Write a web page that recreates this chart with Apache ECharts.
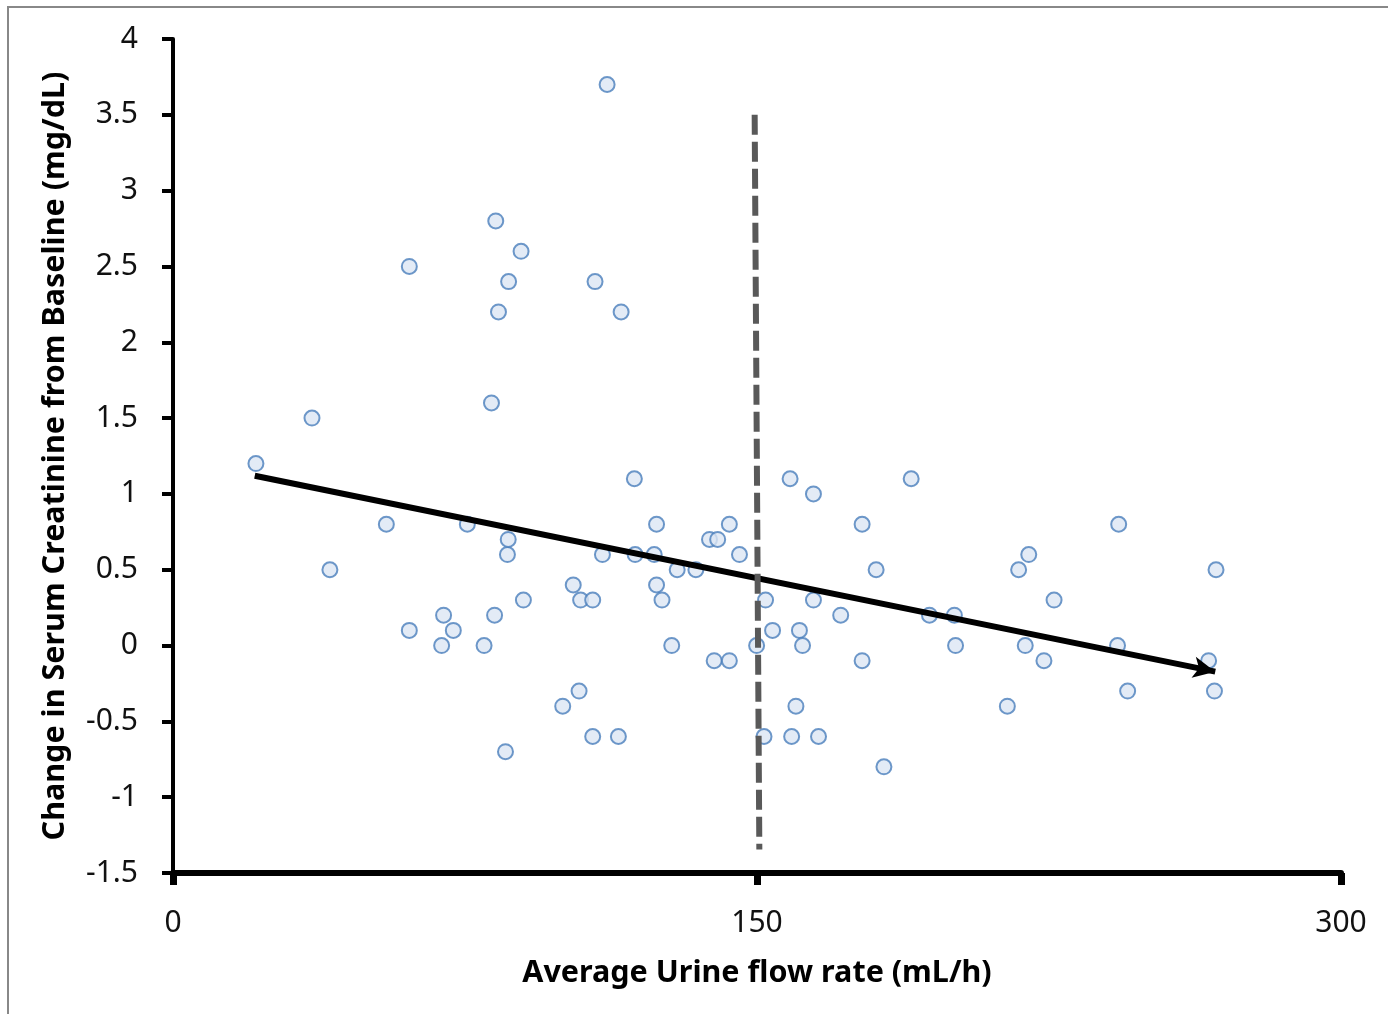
<!DOCTYPE html>
<html>
<head>
<meta charset="utf-8">
<script src="https://cdn.jsdelivr.net/npm/echarts@6/dist/echarts.min.js"></script>
<style>
  html, body { margin: 0; padding: 0; background: #fff; }
  #chart { width: 1388px; height: 1014px; }
</style>
</head>
<body>
<div id="chart"></div>
<script>
// 散点数据：平均尿流量 (mL/h) 与 血肌酐变化 (mg/dL)
const flowRate = [
  21.3, 35.7, 40.3, 54.8, 60.7, 60.7, 69.0, 69.5, 72.0, 75.6,
  79.9, 81.8, 82.6, 82.9, 83.6, 85.4, 85.9, 86.1, 86.2, 89.4,
  90.0, 100.1, 102.8, 104.3, 104.7, 107.8, 107.8, 108.4, 110.3, 111.5,
  114.4, 115.1, 118.5, 118.7, 123.6, 124.2, 124.2, 125.6, 128.1, 129.5,
  134.3, 137.8, 139.0, 139.9, 142.9, 142.9, 145.5, 149.9, 151.8, 152.2,
  154.0, 158.5, 158.9, 160.0, 160.9, 161.7, 164.5, 164.5, 165.8, 171.5,
  177.0, 177.0, 180.6, 182.6, 189.6, 194.3, 200.7, 201.0, 214.3, 217.2,
  218.9, 219.8, 223.7, 226.3, 242.9, 242.6, 245.2, 266.0, 267.5, 267.9
];
const creatChange = [
  1.2, 1.5, 0.5, 0.8, 2.5, 0.1, 0, 0.2, 0.1, 0.8,
  0, 1.6, 0.2, 2.8, 2.2, -0.7, 0.6, 0.7, 2.4, 2.6,
  0.3, -0.4, 0.4, -0.3, 0.3, -0.6, 0.3, 2.4, 0.6, 3.7,
  -0.6, 2.2, 1.1, 0.6, 0.6, 0.8, 0.4, 0.3, 0, 0.5,
  0.5, 0.7, -0.1, 0.7, 0.8, -0.1, 0.6, 0, -0.6, 0.3,
  0.1, 1.1, -0.6, -0.4, 0.1, 0, 1.0, 0.3, -0.6, 0.2,
  0.8, -0.1, 0.5, -0.8, 1.1, 0.2, 0.2, 0, -0.4, 0.5,
  0, 0.6, -0.1, 0.3, 0.8, 0, -0.3, -0.1, -0.3, 0.5
];
// 趋势线（箭头）起止点
const trendStart = [21.0, 1.12];
const trendEnd = [267.7, -0.172];
// 150 mL/h 分界虚线
const cutoffTop = [149.4, 3.5];
const cutoffBottom = [150.6, -1.345];
// 坐标轴
const xTicks = [0, 300, 150];   // min, max, interval
const yTicks = [-1.5, 4, 0.5];  // min, max, interval

const points = flowRate.map((x, i) => [x, creatChange[i]]);

const labelFont = { fontFamily: 'Noto Sans', fontSize: 30, color: '#111' };
const titleFont = { fontFamily: 'Noto Sans', fontSize: 30.5, fontWeight: 'bold', color: '#000' };

const myChart = echarts.init(document.getElementById('chart'));
const option = {
  animation: false,
  backgroundColor: '#fff',
  graphic: [
    {
      type: 'rect',
      shape: { x: 8, y: 7, width: 1400, height: 1020 },
      style: { fill: 'none', stroke: '#888', lineWidth: 2 },
      silent: true,
    },
  ],
  grid: { left: 173, right: 47, top: 39, bottom: 141 },
  xAxis: {
    type: 'value',
    min: xTicks[0],
    max: xTicks[1],
    interval: xTicks[2],
    name: 'Average Urine flow rate (mL/h)',
    nameLocation: 'middle',
    nameGap: 85,
    nameTextStyle: titleFont,
    axisLine: { onZero: false, lineStyle: { color: '#000', width: 6 } },
    axisTick: { show: true, length: 12, lineStyle: { color: '#000', width: 7 } },
    axisLabel: { ...labelFont, margin: 35 },
    splitLine: { show: false },
  },
  yAxis: {
    type: 'value',
    min: yTicks[0],
    max: yTicks[1],
    interval: yTicks[2],
    name: 'Change in Serum Creatinine from Baseline (mg/dL)',
    nameLocation: 'middle',
    nameGap: 102,
    nameTextStyle: titleFont,
    axisLine: { show: true, onZero: false, lineStyle: { color: '#000', width: 4 } },
    axisTick: { show: true, length: 11, lineStyle: { color: '#000', width: 4 } },
    axisLabel: { ...labelFont, margin: 35 },
    splitLine: { show: false },
  },
  series: [
    {
      type: 'scatter',
      data: points,
      symbol: 'circle',
      symbolSize: 15,
      itemStyle: { color: '#dce6f4', borderColor: '#4a7ebb', borderWidth: 2 },
      z: 3,
    },
    {
      type: 'line',
      data: [],
      markLine: {
        silent: true,
        animation: false,
        label: { show: false },
        data: [
          [
            { coord: trendStart, symbol: 'none', lineStyle: { color: '#000', width: 6, type: 'solid' } },
            { coord: trendEnd, symbol: 'arrow', symbolSize: [16, 22] },
          ],
          [
            { coord: cutoffTop, symbol: 'none', lineStyle: { color: '#595959', width: 6, type: [20, 7] } },
            { coord: cutoffBottom, symbol: 'none' },
          ],
        ],
      },
      z: 4,
    },
  ],
};
option && myChart.setOption(option);
</script>
</body>
</html>
